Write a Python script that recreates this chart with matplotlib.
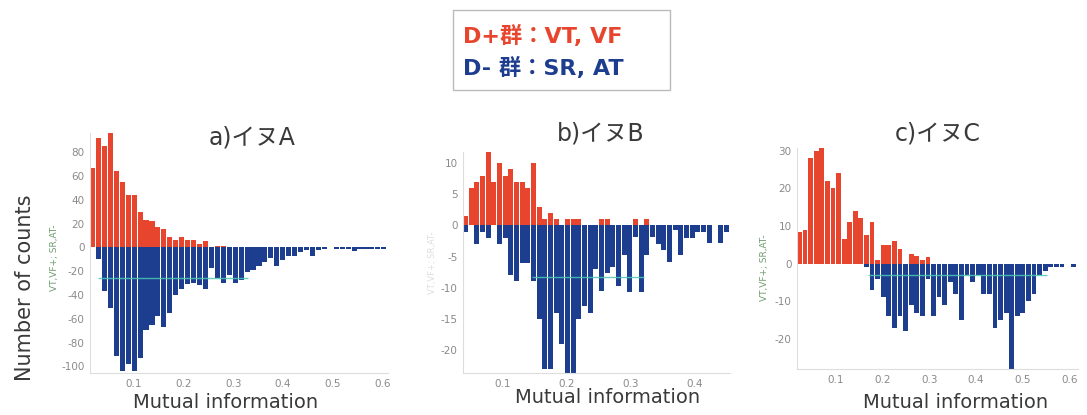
import numpy as np
import matplotlib.pyplot as plt
from matplotlib.patches import Rectangle

plt.rcParams['font.family'] = ['DejaVu Sans', 'Noto Sans CJK JP']
plt.rcParams['axes.unicode_minus'] = False

W, H = 1087, 415
RED = '#e8452f'
BLUE = '#1d3d8f'
TEAL = '#4cc8b4'
GREY = '#8a8a8a'
DARK = '#3a3a3a'

##############################
# DATA
##############################
# a) dog A : 50 bins starting at 0.0134, width 0.0119
a_start, a_width = 0.0134, 0.0119
a_pos = [67, 92, 85, 96, 64, 55, 44, 44, 30, 23, 22, 17, 15, 9, 6, 9, 6, 6, 3, 5,
         0, 1, 1, 0, 0, 0, 0, 0, 0, 0, 0, 0, 0, 0, 0, 0, 0, 0, 0, 0,
         0, 0, 0, 0, 0, 0, 0, 0, 0, 0]
a_neg = [0, -10, -37, -51, -91, -104, -98, -104, -93, -69, -65, -58, -67, -55, -40, -35, -31, -30, -32, -35,
         -17, -26, -30, -23, -30, -27, -21, -19, -16, -12, -9, -16, -11, -7, -7, -4, -2, -7, -2, -1,
         0, -1, -1, -1, -3, -1, -1, -1, -1, -1]
a_mean, a_span = -26, (0.03, 0.33)

# b) dog B : 47 bins starting at 0.0375, width 0.00886
b_start, b_width = 0.0375, 0.00886
b_pos = [1.5, 6, 7, 8, 12, 7, 10, 8, 9, 7, 7, 6, 10, 3, 1, 2, 1, 0, 1, 1,
         1, 0, 0, 0, 1, 1, 0, 0, 0, 0, 1, 0, 1, 0, 0, 0, 0, 0, 0, 0,
         0, 0, 0, 0, 0, 0, 0]
b_neg = [-1, 0, -3, -1, -2, 0, -3, -2, -8, -9, -6, -6, -9, -15, -23, -23, -14, -19, -24, -24,
         -15, -13, -14, -7, -10.6, -7.7, -6.7, -9.8, -4.8, -10.7, -1.9, -10.7, -4.8, -1.9, -2.9, -3.9, -5.9, -0.8, -4.8, -2,
         -2, -1, -1, -2.8, 0, -2.8, -1]
b_mean, b_span = -8.2, (0.145, 0.32)

# c) dog C : 50 bins starting at 0.0185, width 0.0119
c_start, c_width = 0.0185, 0.0119
c_pos = [8.3, 8.8, 28, 30, 31, 22, 20, 24, 6.6, 11, 14, 12, 7.7, 11, 1, 5, 5, 6, 4, 0,
         2.6, 1.9, 1, 1.8, 0, 0, 0, 0, 0, 0, 0, 0, 0, 0, 0, 0, 0, 0, 0, 0,
         0, 0, 0, 0, 0, 0, 0, 0, 0, 0]
c_neg = [0, 0, 0, 0, 0, 0, 0, 0, 0, 0, 0, 0, -1, -7, -4, -9, -14, -17, -14, -18,
         -11, -13, -14, -4, -14, -9, -11, -5, -8, -15, -3, -5, -3, -8, -8, -17, -15, -13, -28, -14,
         -13, -10, -8, -3, -2, -1, -1, -1, 0, -1]
c_mean, c_span = -3.1, (0.17, 0.55)


def px_axes(fig, left, top, right, bottom):
    return fig.add_axes([left / W, 1 - bottom / H, (right - left) / W, (bottom - top) / H])


def draw_panel(ax, start, width, pos, neg, mean, span, xlim, ylim, xticks, yticks):
    x = start + width * np.arange(len(pos))
    ax.bar(x, pos, width=width * 0.86, align='edge', color=RED, linewidth=0)
    ax.bar(x, neg, width=width * 0.86, align='edge', color=BLUE, linewidth=0)
    ax.hlines(mean, span[0], span[1], color=TEAL, lw=1.0, alpha=0.85)
    ax.set_xlim(*xlim)
    ax.set_ylim(*ylim)
    ax.set_xticks(xticks)
    ax.set_xticklabels([f'{t:.1f}' for t in xticks])
    ax.set_yticks(yticks)
    for side in ['top', 'right']:
        ax.spines[side].set_visible(False)
    for side in ['left', 'bottom']:
        ax.spines[side].set_color('#dddddd')
        ax.spines[side].set_linewidth(0.8)
    ax.tick_params(length=0, labelsize=7.5, labelcolor=GREY, pad=4)


fig = plt.figure(figsize=(W / 100, H / 100), dpi=100)

ax_a = px_axes(fig, 90, 133, 388, 373)
draw_panel(ax_a, a_start, a_width, a_pos, a_neg, a_mean, a_span,
           (a_start, 0.61), (-105.5, 96), [0.1, 0.2, 0.3, 0.4, 0.5, 0.6], range(-100, 81, 20))

ax_b = px_axes(fig, 463, 152, 730, 373)
draw_panel(ax_b, b_start, b_width, b_pos, b_neg, b_mean, b_span,
           (b_start, 0.455), (-23.7, 11.8), [0.1, 0.2, 0.3, 0.4], range(-20, 11, 5))

ax_c = px_axes(fig, 797, 148, 1078, 369)
draw_panel(ax_c, c_start, c_width, c_pos, c_neg, c_mean, c_span,
           (c_start, 0.617), (-28, 30.7), [0.1, 0.2, 0.3, 0.4, 0.5, 0.6], range(-20, 31, 10))

# titles and axis labels
for txt, x, y in [('a)イヌA', 252, 137), ('b)イヌB', 601, 134), ('c)イヌC', 938, 134)]:
    fig.text(x / W, 1 - y / H, txt, ha='center', va='center', fontsize=17, color=DARK)
for x, y in [(226, 402), (608, 397), (956, 402)]:
    fig.text(x / W, 1 - y / H, 'Mutual information', ha='center', va='center', fontsize=14, color=DARK)

fig.text(25 / W, 1 - 288 / H, 'Number of counts', rotation=90, ha='center', va='center',
         fontsize=15, color=DARK)
fig.text(55 / W, 1 - 258 / H, 'VT,VF+; SR,AT-', rotation=90, ha='center', va='center',
         fontsize=6.5, color='#6f9a6f')
fig.text(433 / W, 1 - 263 / H, 'VT,VF+; SR,AT-', rotation=90, ha='center', va='center',
         fontsize=6, color='#dedede')
fig.text(765 / W, 1 - 268 / H, 'VT,VF+; SR,AT-', rotation=90, ha='center', va='center',
         fontsize=6.5, color='#6f9a6f')

# legend box
fig.patches.append(Rectangle((453 / W, 1 - 90 / H), 217 / W, 80 / H, transform=fig.transFigure,
                             facecolor='white', edgecolor='#bbbbbb', lw=1))
fig.text(463 / W, 1 - 36 / H, 'D+群：VT, VF', ha='left', va='center', fontsize=16,
         fontweight='bold', color=RED)
fig.text(463 / W, 1 - 68 / H, 'D- 群：SR, AT', ha='left', va='center', fontsize=16,
         fontweight='bold', color=BLUE)

fig.savefig('out.png', dpi=100)
